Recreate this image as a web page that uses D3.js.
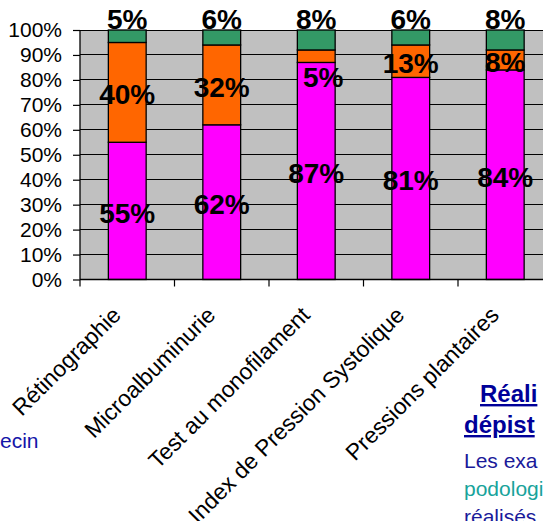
<!DOCTYPE html>
<html>
<head>
<meta charset="utf-8">
<script src="https://cdn.jsdelivr.net/npm/d3@7/dist/d3.min.js"></script>
<style>
  html, body { margin: 0; padding: 0; background: #ffffff; }
  svg { display: block; font-family: Arial, "Liberation Sans", sans-serif; }
</style>
</head>
<body>
<svg id="chart" width="543" height="521"></svg>
<script>
// ---- data ----
const categories = ["Rétinographie", "Microalbuminurie", "Test au monofilament", "Index de Pression Systolique", "Pressions plantaires"];
const seriesNames = ["Réalisé", "Non réalisé", "Non renseigné"];
const realise     = [55, 62, 87, 81, 84];
const nonRealise  = [40, 32, 5, 13, 8];
const nonRens     = [5, 6, 8, 6, 8];
const yTicks = [0, 10, 20, 30, 40, 50, 60, 70, 80, 90, 100];
const yTickLabels = ["0%", "10%", "20%", "30%", "40%", "50%", "60%", "70%", "80%", "90%", "100%"];

// ---- layout ----
const svg = d3.select("#chart");
const mLeft = 80, mTop = 30, mBottom = 279.5, mRight = 552.5;
const colors = ["#FF00FF", "#FF6600", "#339966"];

const x = d3.scaleBand().domain(categories).range([mLeft, mRight]).paddingInner(0.6).paddingOuter(0.3);
const y = d3.scaleLinear().domain([0, 100]).range([mBottom, mTop]);
const step = x.step();

// plot background
svg.append("rect").attr("x", mLeft).attr("y", mTop).attr("width", mRight - mLeft).attr("height", mBottom - mTop).attr("fill", "#C0C0C0");

// gridlines
svg.append("g").selectAll("line").data(yTicks.slice(1)).join("line")
  .attr("x1", mLeft).attr("x2", mRight)
  .attr("y1", d => y(d)).attr("y2", d => y(d))
  .attr("stroke", "#000").attr("stroke-width", 1).attr("shape-rendering", "crispEdges");

// stacked data
const rows = categories.map((c, i) => ({cat: c, vals: [realise[i], nonRealise[i], nonRens[i]]}));
const segs = [];
rows.forEach((r, i) => {
  let acc = 0;
  r.vals.forEach((v, k) => { segs.push({cat: r.cat, i, k, y0: acc, y1: acc + v, v}); acc += v; });
});

svg.append("g").selectAll("rect").data(segs).join("rect")
  .attr("x", d => x(d.cat))
  .attr("width", x.bandwidth())
  .attr("y", d => y(d.y1))
  .attr("height", d => y(d.y0) - y(d.y1))
  .attr("fill", d => colors[d.k])
  .attr("stroke", "#000").attr("stroke-width", 1.3);

// y axis
const yAxis = d3.axisLeft(y).tickValues(yTicks).tickFormat((d, i) => yTickLabels[i]).tickSize(7).tickPadding(11);
const gy = svg.append("g").attr("transform", `translate(${mLeft},0)`).call(yAxis);
gy.select(".domain").attr("stroke", "#000").attr("stroke-width", 1.3).attr("d", `M0,${mBottom}V${mTop}`);
gy.selectAll(".tick line").attr("stroke", "#000").attr("stroke-width", 1.2);
gy.selectAll(".tick text").attr("font-size", 21).attr("fill", "#000").attr("font-family", "Arial, 'Liberation Sans', sans-serif");

// x axis line + boundary ticks
svg.append("line").attr("x1", mLeft).attr("x2", mRight).attr("y1", mBottom).attr("y2", mBottom).attr("stroke", "#000").attr("stroke-width", 1.3);
const bounds = d3.range(categories.length + 1).map(i => mLeft + i * step);
svg.append("g").selectAll("line").data(bounds).join("line")
  .attr("x1", d => d).attr("x2", d => d).attr("y1", mBottom).attr("y2", mBottom + 7)
  .attr("stroke", "#000").attr("stroke-width", 1.2);

// x labels (rotated)
svg.append("g").selectAll("text").data(categories).join("text")
  .attr("transform", d => `translate(${x(d) + x.bandwidth() / 2 - 5},${mBottom + 37}) rotate(-45)`)
  .attr("text-anchor", "end")
  .attr("font-size", 22.8)
  .attr("fill", "#000")
  .text(d => d);

// value labels
const lbl = svg.append("g").attr("font-weight", "bold").attr("font-size", 28).attr("fill", "#000").attr("text-anchor", "middle");
segs.forEach(d => {
  const cx = x(d.cat) + x.bandwidth() / 2;
  let ty, tx = cx;
  if (d.k === 2) {
    ty = y(100) - 1;
  } else if (d.k === 1 && d.v < 6) {
    ty = y(d.y0) + 25; tx = cx + 7;
  } else {
    ty = y((d.y0 + d.y1) / 2) + 12;
  }
  lbl.append("text").attr("x", tx).attr("y", ty).text(d.v + "%");
});

// surrounding slide text (visible fragments, as cropped in the reference)
svg.append("text").attr("x", 0).attr("y", 448).attr("font-size", 21).attr("fill", "#1414A8").text("ecin");
svg.append("text").attr("x", 480).attr("y", 402).attr("font-size", 24).attr("font-weight", "bold").attr("fill", "#000099").attr("text-decoration", "underline").text("Réali");
svg.append("text").attr("x", 464).attr("y", 433).attr("font-size", 24).attr("font-weight", "bold").attr("fill", "#000099").attr("text-decoration", "underline").text("dépist");
svg.append("text").attr("x", 464).attr("y", 468).attr("font-size", 21).attr("fill", "#1A1A9A").text("Les exa");
svg.append("text").attr("x", 464).attr("y", 496).attr("font-size", 21).attr("fill", "#18A39B").text("podologi");
svg.append("text").attr("x", 464).attr("y", 524).attr("font-size", 21).attr("fill", "#1A1A9A").text("réalisés");
</script>
</body>
</html>
